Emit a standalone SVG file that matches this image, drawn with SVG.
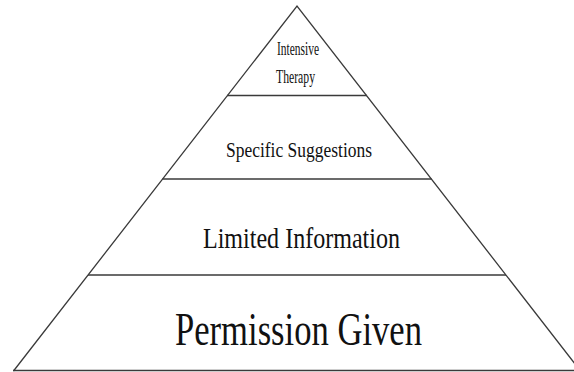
<svg xmlns="http://www.w3.org/2000/svg" width="574" height="372" viewBox="0 0 574 372">
  <style>
    .edge { fill: none; stroke: #3a3a3a; stroke-width: 1.3; }
    .tier { stroke: #3a3a3a; stroke-width: 1.6; }
    .label { font-family: "Liberation Serif", "Times New Roman", serif; fill: #111; }
  </style>
  <rect width="574" height="372" fill="#ffffff"/>

  <!-- pyramid outline and tier dividers -->
  <g id="connectors">
    <path class="edge" d="M13.5,371 L297,6 L580.5,371"/>
    <line class="tier" x1="13" y1="370.5" x2="574" y2="370.5"/>
    <line class="tier" x1="227" y1="95.5" x2="367" y2="95.5"/>
    <line class="tier" x1="162.5" y1="179" x2="431.5" y2="179"/>
    <line class="tier" x1="88" y1="275" x2="506" y2="275"/>
  </g>

  <g id="intensive-therapy">
    <text class="label" x="277" y="55" font-size="18" textLength="42" lengthAdjust="spacingAndGlyphs">Intensive</text>
    <text class="label" x="276" y="83" font-size="18" textLength="39" lengthAdjust="spacingAndGlyphs">Therapy</text>
  </g>

  <g id="specific-suggestions">
    <text class="label" x="226" y="157" font-size="22" textLength="146" lengthAdjust="spacingAndGlyphs">Specific Suggestions</text>
  </g>

  <g id="limited-information">
    <text class="label" x="203" y="248" font-size="30" textLength="197" lengthAdjust="spacingAndGlyphs">Limited Information</text>
  </g>

  <g id="permission-given">
    <text class="label" x="175" y="345" font-size="46" textLength="247" lengthAdjust="spacingAndGlyphs">Permission Given</text>
  </g>
</svg>
